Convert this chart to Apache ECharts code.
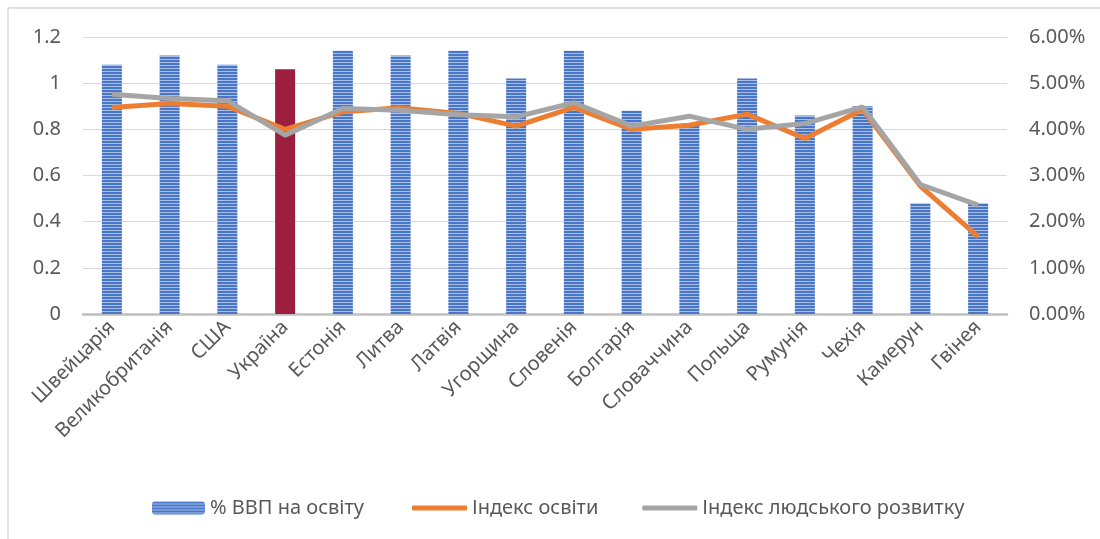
<!DOCTYPE html>
<html>
<head>
<meta charset="utf-8">
<script src="https://cdn.jsdelivr.net/npm/echarts@6/dist/echarts.min.js"></script>
<style>
    html, body {margin: 0; padding: 0; background: #fff;}
    #main {width: 1100px; height: 539px;}
</style>
</head>
<body>
<div id="main"></div>
<script>
// країни
const countries = ['Швейцарія', 'Великобританія', 'США', 'Україна', 'Естонія', 'Литва', 'Латвія', 'Угорщина',
    'Словенія', 'Болгарія', 'Словаччина', 'Польща', 'Румунія', 'Чехія', 'Камерун', 'Гвінея'];

// % ВВП на освіту (права вісь)
const gdpEdu = [5.4, 5.6, 5.4, 5.3, 5.7, 5.6, 5.7, 5.1, 5.7, 4.4, 4.1, 5.1, 4.3, 4.5, 2.4, 2.4];

// Індекс освіти (ліва вісь)
const eduIndex = [0.895, 0.912, 0.9, 0.8, 0.876, 0.893, 0.869, 0.814, 0.895, 0.8, 0.818, 0.866, 0.76, 0.886, 0.554, 0.335];

// Індекс людського розвитку (ліва вісь)
const hdi = [0.952, 0.934, 0.924, 0.775, 0.89, 0.883, 0.863, 0.854, 0.915, 0.814, 0.857, 0.8, 0.825, 0.897, 0.561, 0.472];

const leftTicks = [0, 0.2, 0.4, 0.6, 0.8, 1, 1.2];
const rightTicks = [0, 1, 2, 3, 4, 5, 6];

const grey = '#595959';
const font = 'Noto Sans';

// смугаста заливка стовпчиків
const stripe = document.createElement('canvas');
stripe.width = 4;
stripe.height = 3;
const sctx = stripe.getContext('2d');
sctx.fillStyle = '#4A76C8';
sctx.fillRect(0, 0, 4, 3);
sctx.fillStyle = '#A8BFE8';
sctx.fillRect(0, 2, 4, 1);
const stripeFill = {image: stripe, repeat: 'repeat'};

const barData = gdpEdu.map((v, i) => {
    if (countries[i] === 'Україна') {
        return {value: v, itemStyle: {color: '#9C1F3F'}};
    }
    return v;
});

const myChart = echarts.init(document.getElementById('main'));

const legendText = {color: grey, fontSize: 20, fontFamily: font};

const option = {
    animation: false,
    backgroundColor: '#fff',
    textStyle: {fontFamily: font},
    graphic: [
        {type: 'line', shape: {x1: 8, y1: 8, x2: 1100, y2: 8}, style: {stroke: '#D9D9D9', lineWidth: 1.5}},
        {type: 'line', shape: {x1: 8, y1: 8, x2: 8, y2: 539}, style: {stroke: '#D9D9D9', lineWidth: 1.5}},
    ],
    grid: {left: 83, right: 93, top: 37, bottom: 225},
    legend: [
        {
            left: 147,
            top: 493,
            itemWidth: 53,
            itemHeight: 13,
            textStyle: legendText,
            data: ['% ВВП на освіту'],
        },
        {
            left: 407,
            top: 493,
            icon: 'roundRect',
            itemWidth: 55,
            itemHeight: 5,
            itemGap: 44,
            textStyle: legendText,
            data: ['Індекс освіти', 'Індекс людського розвитку'],
        },
    ],
    xAxis: {
        type: 'category',
        data: countries,
        axisTick: {show: false},
        axisLine: {lineStyle: {color: '#BFBFBF', width: 2.5}},
        axisLabel: {rotate: 45, color: grey, fontSize: 20, margin: 10, interval: 0},
    },
    yAxis: [
        {
            type: 'value',
            min: leftTicks[0],
            max: leftTicks[leftTicks.length - 1],
            interval: 0.2,
            axisLabel: {color: grey, fontSize: 20, margin: 22},
            splitLine: {lineStyle: {color: '#D9D9D9'}},
        },
        {
            type: 'value',
            min: rightTicks[0],
            max: rightTicks[rightTicks.length - 1],
            interval: 1,
            axisLabel: {color: grey, fontSize: 20, margin: 22, formatter: v => v.toFixed(2) + '%'},
            splitLine: {show: false},
        },
    ],
    series: [
        {
            name: '% ВВП на освіту',
            type: 'bar',
            yAxisIndex: 1,
            barWidth: 20,
            itemStyle: {color: stripeFill},
            data: barData,
        },
        {
            name: 'Індекс освіти',
            type: 'line',
            yAxisIndex: 0,
            symbol: 'none',
            lineStyle: {color: '#ED7D31', width: 5},
            itemStyle: {color: '#ED7D31'},
            data: eduIndex,
        },
        {
            name: 'Індекс людського розвитку',
            type: 'line',
            yAxisIndex: 0,
            symbol: 'none',
            lineStyle: {color: '#A5A5A5', width: 5},
            itemStyle: {color: '#A5A5A5'},
            data: hdi,
        },
    ],
};

myChart.setOption(option);
</script>
</body>
</html>
